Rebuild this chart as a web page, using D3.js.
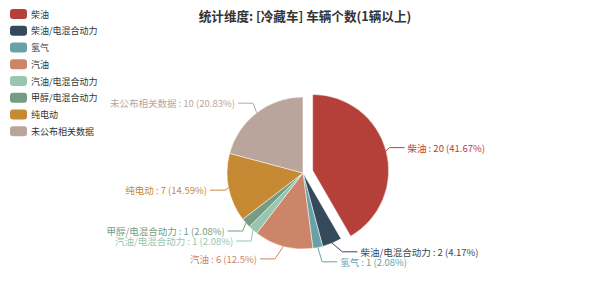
<!DOCTYPE html>
<html><head><meta charset="utf-8">
<script src="https://cdn.jsdelivr.net/npm/d3@7"></script>
<style>
html,body{margin:0;padding:0;background:#fff;}
svg{display:block;font-family:"Noto Sans CJK SC","Noto Sans",sans-serif;}
</style></head>
<body><svg id="c" width="600" height="291"></svg>
<script>
const titleText = "统计维度: [冷藏车] 车辆个数(1辆以上)";
const categories = ["柴油","柴油/电混合动力","氢气","汽油","汽油/电混合动力","甲醇/电混合动力","纯电动","未公布相关数据"];
const values = [20,2,1,6,1,1,7,10];
const percents = [41.67,4.17,2.08,12.5,2.08,2.08,14.59,20.83];
const colors = ["#b5403a","#34495a","#68a2a8","#cc8569","#98c6af","#779c85","#c68a35","#baa59c"];
const selectedCategory = "柴油";

const W=600,H=291;
const cx=303, cy=173, r=76, selOffset=10;
const len1=12, len2=15, textRing=97.5, labelH=10;

const svg=d3.select("#c");
const data=categories.map((c,i)=>({name:c,value:values[i],pct:percents[i],color:colors[i]}));

// title
svg.append("text").attr("x",305).attr("y",15).attr("text-anchor","middle")
  .attr("dominant-baseline","central").attr("font-size",12.6).attr("font-weight","bold")
  .attr("fill","#333").text(titleText);

// legend
const legend=svg.append("g");
data.forEach((d,i)=>{
  const y=14+i*16.75;
  legend.append("rect").attr("x",10).attr("y",y-5).attr("width",17).attr("height",10)
    .attr("rx",3).attr("fill",d.color);
  legend.append("text").attr("x",31).attr("y",y).attr("dominant-baseline","central")
    .attr("font-size",9).attr("fill","#333").text(d.name);
});

// pie
const arcs=d3.pie().sort(null).value(d=>d.value).startAngle(0).endAngle(2*Math.PI)(data);
const arcGen=d3.arc().innerRadius(0).outerRadius(r);

const layouts=arcs.map(a=>{
  const mid=(a.startAngle+a.endAngle)/2;
  const dx=Math.sin(mid), dy=-Math.cos(mid);
  const dir=dx<0?-1:1;
  const x1=cx+r*dx, y1=cy+r*dy;
  const x2=cx+(r+len1)*dx, y2=cy+(r+len1)*dy;
  const x3=x2+dir*len2;
  return {a,dx,dy,dir,x1,y1,x2,y2,x3,x:x3+dir*5,y:y2,height:labelH,len:len1,len2:len2,
          sel:a.data.name===selectedCategory};
});

function adjustSide(list,dir){
  list.sort((p,q)=>p.y-q.y);
  function shiftUp(end,delta){
    for(let j=end;j>=0;j--){
      if(list[j].y-delta<0)break;
      list[j].y-=delta;
      if(j>0 && list[j].y>list[j-1].y+list[j-1].height)break;
    }
  }
  function shiftDown(start,end,delta){
    for(let j=start;j<end;j++){
      if(list[j].y+delta>H)break;
      list[j].y+=delta;
      if(j>start && j+1<end && list[j+1].y>list[j].y+list[j].height){
        shiftUp(j,delta/2);return;
      }
    }
    shiftUp(end-1,delta/2);
  }
  let lastY=0;
  for(let i=0;i<list.length;i++){
    const delta=list[i].y-lastY;
    if(delta<0)shiftDown(i,list.length,-delta);
    lastY=list[i].y+list[i].height;
  }
  const up=list.filter(l=>l.y<cy), down=list.filter(l=>l.y>=cy);
  function changeX(lst,isDown){
    let last=isDown?Number.MAX_VALUE:0;
    lst.forEach(l=>{
      const dY=Math.abs(l.y-cy);
      let dX=(dY<r+l.len)?Math.sqrt(textRing*textRing-dY*dY):Math.abs(l.x-cx);
      if(isDown && dX>=last)dX=last-10;
      if(!isDown && dX<=last)dX=last+10;
      l.x=cx+dX*dir; last=dX;
    });
  }
  changeX(up,false); changeX(down,true);
}
adjustSide(layouts.filter(l=>l.dir<0),-1);
adjustSide(layouts.filter(l=>l.dir>0),1);

layouts.forEach(l=>{
  const lineEnd = l.x<cx ? l.x+3 : l.x-3;
  const elbow = lineEnd - l.dir*len2;
  l.pts=[[l.x1,l.y1],[elbow,l.y],[lineEnd,l.y]];
});

const g=svg.append("g");
layouts.forEach(l=>{
  const off=l.sel?[l.dx*selOffset,l.dy*selOffset]:[0,0];
  const pg=g.append("g").attr("transform",`translate(${off[0]},${off[1]})`);
  pg.append("path").attr("d",arcGen(l.a)).attr("transform",`translate(${cx},${cy})`)
    .attr("fill",l.a.data.color).attr("stroke","#fff").attr("stroke-width",0.5);
  pg.append("polyline").attr("points",l.pts.map(p=>p.join(",")).join(" "))
    .attr("fill","none").attr("stroke",l.a.data.color).attr("stroke-width",1);
  pg.append("text").attr("x",l.x).attr("y",l.y).attr("dominant-baseline","central")
    .attr("text-anchor",l.dir<0?"end":"start").attr("font-size",9.5)
    .attr("fill",l.a.data.color)
    .text(`${l.a.data.name} : ${l.a.data.value} (${l.a.data.pct}%)`);
});
</script></body></html>
